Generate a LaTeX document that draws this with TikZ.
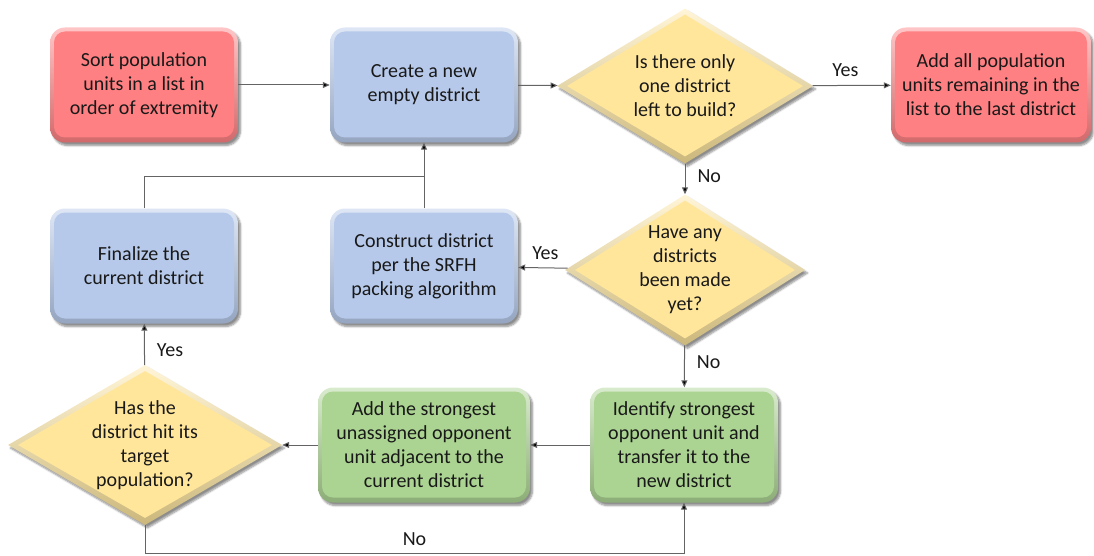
\documentclass[tikz,border=0pt]{standalone}
\usepackage{fontspec}
\setmainfont{Carlito}
\usetikzlibrary{shapes.geometric,arrows.meta,shadows.blur,calc}
\definecolor{redf}{RGB}{255,128,130}
\definecolor{bluef}{RGB}{182,201,234}
\definecolor{yelf}{RGB}{255,230,155}
\definecolor{grnf}{RGB}{171,211,145}
\definecolor{linec}{RGB}{100,100,100}
\definecolor{txtc}{RGB}{25,25,25}
\tikzset{
  txt/.style={align=center, text=txtc, font=\fontsize{20}{24}\selectfont, inner sep=0pt},
  sh/.style={blur shadow={shadow xshift=2.5pt, shadow yshift=-3pt, shadow blur steps=6, shadow opacity=45}},
  bevbox/.style={top color=#1!45!white, bottom color=#1!82!black,
    path picture={\fill[#1, rounded corners=11pt]
      ([shift={(4pt,5pt)}]path picture bounding box.south west) rectangle
      ([shift={(-4pt,-4pt)}]path picture bounding box.north east);}},
  box/.style={txt, sh, rounded corners=15pt, minimum width=188pt, minimum height=115pt},
  redbox/.style={box, bevbox=redf},
  bluebox/.style={box, bevbox=bluef},
  grnbox/.style={box, bevbox=grnf},
  dia/.style={diamond, sh, inner sep=0pt, top color=yelf!40!white, bottom color=yelf!80!black,
    path picture={\fill[yelf]
      ($(path picture bounding box.north)+(0,-6pt)$) --
      ($(path picture bounding box.east)+(-10pt,0)$) --
      ($(path picture bounding box.south)+(0,7pt)$) --
      ($(path picture bounding box.west)+(10pt,0)$) -- cycle;}},
  arr/.style={draw=linec, line width=1pt, -{Triangle[length=7pt,width=6pt,fill=black]}},
  ln/.style={draw=linec, line width=1pt},
  lab/.style={txt}
}
\begin{document}
\begin{tikzpicture}[x=1pt,y=-1pt]
\useasboundingbox (0,0) rectangle (1094,556);
% nodes
\node[redbox] (sort) at (144,85) {Sort population\\units in a list in\\order of extremity};
\node[bluebox] (create) at (424,85) {Create a new\\empty district};
\node[dia, minimum width=256pt, minimum height=155pt] (d1) at (685,86) {};
\node[txt] (d1t) at (d1) {Is there only\\one district\\left to build?};
\node[redbox, minimum width=200pt] (addall) at (991,85) {Add all population\\units remaining in the\\list to the last district};
\node[dia, minimum width=240pt, minimum height=151pt] (d2) at (685,270) {};
\node[txt] (d2t) at (d2) {Have any\\districts\\been made\\yet?};
\node[bluebox] (construct) at (424,266) {Construct district\\per the SRFH\\packing algorithm};
\node[bluebox] (final) at (144,266) {Finalize the\\current district};
\node[dia, minimum width=274pt, minimum height=160pt] (d3) at (145,445) {};
\node[txt] (d3t) at (d3) {Has the\\district hit its\\target\\population?};
\node[grnbox, minimum width=212pt] (addst) at (424,445) {Add the strongest\\unassigned opponent\\unit adjacent to the\\current district};
\node[grnbox] (ident) at (684,445) {Identify strongest\\opponent unit and\\transfer it to the\\new district};
\coordinate (join) at (424,177);
\coordinate (bot) at (145,553);
% connectors
\draw[arr] (sort) -- (create);
\draw[arr] (create) -- (d1);
\draw[arr] (d1) -- node[lab, above=8pt, pos=0.42] {Yes} (addall);
\draw[arr] (d1) -- node[lab, right=12pt, pos=0.4] {No} (d2);
\draw[arr] (d2) -- node[lab, above=8pt, pos=0.45] {Yes} (construct);
\draw[arr] (construct) -- (create);
\draw[ln] (final.north) |- (join);
\draw[arr] (d2) -- node[lab, right=12pt, pos=0.4] {No} (ident);
\draw[arr] (ident) -- (addst);
\draw[arr] (addst) -- (d3);
\draw[arr] (d3) -- node[lab, right=12pt, pos=0.35] {Yes} (final);
\draw[arr] (d3.south) -- (bot) -| node[lab, pos=0.25, above=7pt] {No} (ident.south);
\end{tikzpicture}
\end{document}
